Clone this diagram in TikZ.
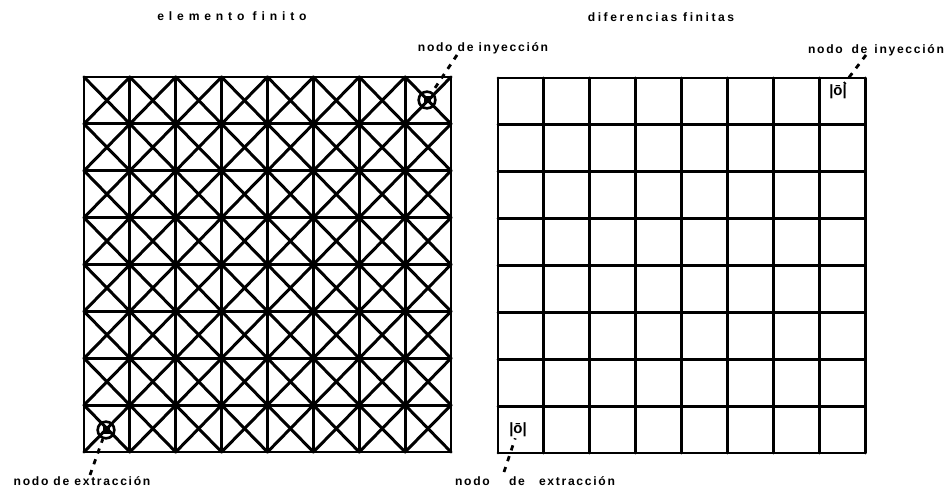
\documentclass[tikz,border=0pt]{standalone}
\usepackage{fontspec}
\setmainfont{Liberation Sans}
\newfontfamily\lblfont{Liberation Sans}[LetterSpace=14]
\newfontfamily\ttlAfont{Liberation Sans}[LetterSpace=40]
\newfontfamily\ttlBfont{Liberation Sans}[LetterSpace=21]
\begin{document}
\begin{tikzpicture}[x=0.02cm, y=-0.02cm,
  mesh/.style={line width=1.7pt, line cap=round},
  lbl/.style={inner sep=0pt, font=\lblfont\bfseries\fontsize{6.9pt}{7pt}\selectfont},
  ttl/.style={inner sep=0pt, font=\bfseries\fontsize{6.9pt}{7pt}\selectfont},
  leader/.style={line width=1.6pt, dash pattern=on 3pt off 3.5pt},
  ring/.style={draw, circle, line width=1.5pt, minimum size=9.5pt, inner sep=0pt},
  fdnode/.style={inner sep=0.5pt, font=\bfseries\fontsize{8.5pt}{9pt}\selectfont}]
\useasboundingbox (0,0) rectangle (950,493);
% titles
\node[ttl] (TL) at (232,16) {\ttlAfont elemento finito};
\node[ttl] (TR) at (661,17) {\ttlBfont diferencias finitas};
% finite element mesh
\foreach \i in {0,...,8} {
  \draw[mesh] (84+\i*45.875,77) -- (84+\i*45.875,452);
  \draw[mesh] (84,77+\i*46.875) -- (451,77+\i*46.875);
}
\foreach \i in {0,...,7} \foreach \j in {0,...,7} {
  \draw[mesh] (84+\i*45.875,77+\j*46.875) -- ++(45.875,46.875);
  \draw[mesh] (84+\i*45.875+45.875,77+\j*46.875) -- ++(-45.875,46.875);
}
% finite difference grid
\foreach \i in {0,...,8} {
  \draw[mesh] (498+\i*45.875,78) -- (498+\i*45.875,453);
  \draw[mesh] (498,78+\i*46.875) -- (865,78+\i*46.875);
}
% injection / extraction nodes
\node[ring] (IL) at (427,100) {};
\fill (IL.center) ++(-3.5,-3.5) rectangle ++(7,7);
\node[ring] (EL) at (106,430) {};
\fill (EL.center) ++(-3.5,-3.5) rectangle ++(7,7);
\node[fdnode] (IR) at (838,92) {|ō|};
\node[fdnode] (ER) at (518,430) {|ō|};
% labels
\node[lbl] (NIL) at (483,48) {nodo de inyección};
\node[lbl] (NIR) at (876,50) {nodo\hspace{5pt}de\hspace{4pt}inyección};
\node[lbl] (NEL) at (82,481) {nodo de extracción};
\node[lbl] (NER) at (535,481) {nodo\hspace{11pt}de\hspace{8pt}extracción};
\coordinate (cIL) at (457,55);
\coordinate (cIR) at (866,55);
\coordinate (cEL) at (90,475);
\coordinate (cER) at (504,472);
\draw[leader] (cIL) -- (IL);
\draw[leader] (cIR) -- (IR);
\draw[leader] (cEL) -- (EL);
\draw[leader] (cER) -- (ER);
\end{tikzpicture}
\end{document}
